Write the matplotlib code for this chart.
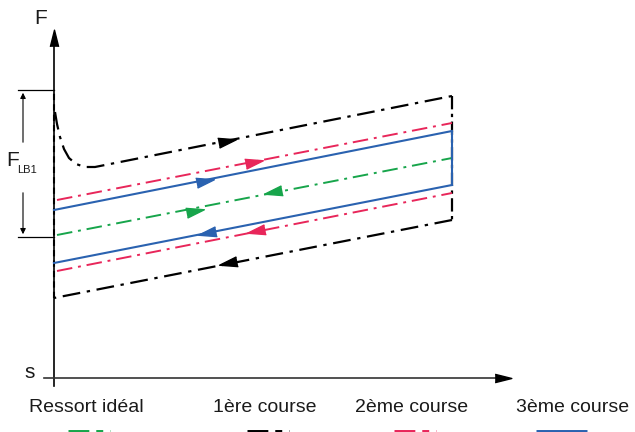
import matplotlib
matplotlib.use('Agg')
import matplotlib.pyplot as plt
from matplotlib.markers import MarkerStyle
from matplotlib.transforms import Affine2D
import numpy as np

plt.rcParams['font.family'] = ['Liberation Sans', 'DejaVu Sans']

# schematic in pixel-like units (x to the right, y downwards)
red = '#e8265a'
green = '#17a54b'
blue = '#2a62b0'
txt = '#1a1a1a'

# 1ere course (black): top curve + line, right side, bottom line, left side on axis
c1_top_x = [55, 57, 60, 64, 69, 76, 85, 95, 452]
c1_top_y = [112, 124, 137, 149, 158, 164, 167, 167, 96]
c1_right_x = [452, 452]
c1_right_y = [96, 220]
c1_bot_x = [452, 54]
c1_bot_y = [220, 298]
c1_left_x = [54, 54]
c1_left_y = [298, 92]

# 2eme course (red)
c2_top_x = [57, 452]
c2_top_y = [200, 123]
c2_bot_x = [57, 452]
c2_bot_y = [271, 193]

# 3eme course (blue)
c3_top_x = [54, 452]
c3_top_y = [210, 131]
c3_right_x = [452, 452]
c3_right_y = [131, 185]
c3_bot_x = [452, 54]
c3_bot_y = [185, 263]

# ressort ideal (green)
id_x = [57, 452]
id_y = [235, 158]

# direction arrows: x, y, colour, direction (+1 right, -1 left)
arr_x = [227, 254, 205, 195, 273, 207, 256, 228]
arr_y = [141, 162, 181, 211, 192, 233, 231, 263]
arr_c = ['k', red, blue, green, green, blue, red, 'k']
arr_d = [1, 1, 1, 1, -1, -1, -1, -1]

legend_labels = ['Ressort idéal', '1ère course', '2ème course', '3ème course']
legend_x = [86, 265, 412, 573]
legend_col = [green, 'k', red, blue]
legend_style = ['dd', 'dd', 'dd', 'solid']

fig = plt.figure(figsize=[6.35, 4.32], dpi=100)
ax = fig.add_axes([0, 0, 1, 1])
ax.set_xlim(0, 635)
ax.set_ylim(432, 0)
ax.axis('off')

dd = (8, 3, 1.5, 3)

# axes
ax.plot([54, 54], [386, 45], color='k', lw=1.2)
ax.plot([44, 500], [378, 378], color='#333333', lw=1.2)
ax.plot(54, 38, marker=MarkerStyle([(-0.5, -1), (0, 1), (0.5, -1)]), ms=12,
        color='k', mec='k')
ax.plot(503, 378, marker=MarkerStyle([(-1, -0.5), (1, 0), (-1, 0.5)]), ms=12,
        color='k', mec='k')
ax.text(41, 19, 'F', fontsize=15, ha='center', va='center', color=txt)
ax.text(30, 373, 's', fontsize=15, ha='center', va='center', color=txt)

# dimension F_LB1
ax.plot([18, 54], [90, 90], color='k', lw=0.9)
ax.plot([18, 54], [237, 237], color='k', lw=0.9)
ax.annotate('', xy=(23, 90), xytext=(23, 145),
            arrowprops=dict(arrowstyle='-|>', color='k', lw=0.8, mutation_scale=8))
ax.annotate('', xy=(23, 237), xytext=(23, 190),
            arrowprops=dict(arrowstyle='-|>', color='k', lw=0.8, mutation_scale=8))
ax.text(6, 166, 'F', fontsize=15, ha='left', va='baseline', color=txt)
ax.text(17, 173, 'LB1', fontsize=8, ha='left', va='baseline', color=txt)

# curves
ax.plot(c1_left_x, c1_left_y, color='k', lw=1.5, dashes=(3, 2))
ax.plot(c1_top_x, c1_top_y, color='k', lw=1.6, dashes=dd)
ax.plot(c1_right_x, c1_right_y, color='k', lw=1.6, dashes=(6, 2, 1.5, 2))
ax.plot(c1_bot_x, c1_bot_y, color='k', lw=1.6, dashes=dd)
ax.plot(c2_top_x, c2_top_y, color=red, lw=1.4, dashes=dd)
ax.plot(c2_bot_x, c2_bot_y, color=red, lw=1.4, dashes=dd)
ax.plot(id_x, id_y, color=green, lw=1.4, dashes=dd)
ax.plot(c3_top_x, c3_top_y, color=blue, lw=1.5)
ax.plot(c3_right_x, c3_right_y, color=blue, lw=1.5)
ax.plot(c3_bot_x, c3_bot_y, color=blue, lw=1.5)

tri = [(-1, -0.55), (1, 0), (-1, 0.55)]
for x, y, c, d in zip(arr_x, arr_y, arr_c, arr_d):
    ang = 11 if d > 0 else 191
    m = MarkerStyle(tri, transform=Affine2D().rotate_deg(ang))
    ax.plot(x, y, marker=m, ms=13, color=c, mec=c, ls='none')

# legend
for lab, x, c, st in zip(legend_labels, legend_x, legend_col, legend_style):
    ax.text(x, 407, lab, fontsize=14, ha='center', va='center', color=txt)
    if st == 'solid':
        ax.plot([x - 37, x + 14], [433, 433], color=c, lw=5, solid_capstyle='butt')
    else:
        ax.plot([x - 18, x + 24], [433, 433], color=c, lw=5, dashes=(3, 1, 1, 1))

fig.savefig('out.png', dpi=100)
